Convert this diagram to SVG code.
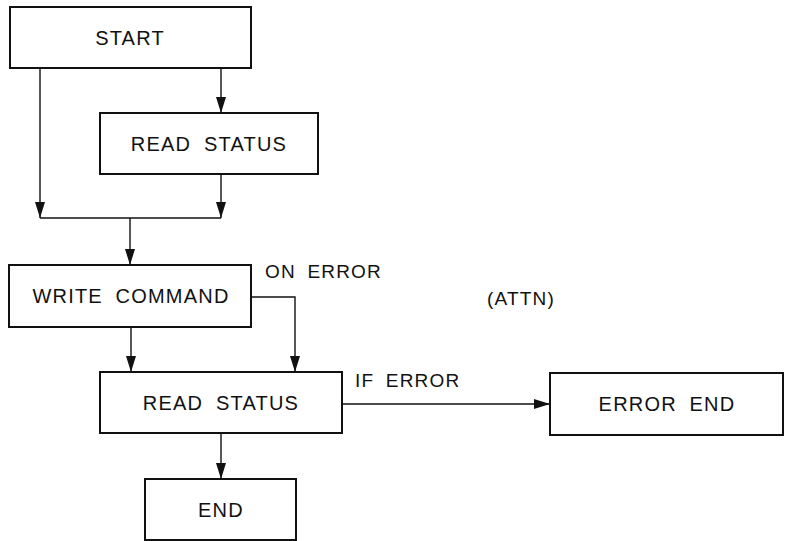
<svg xmlns="http://www.w3.org/2000/svg" width="785" height="541" viewBox="0 0 785 541">
<style>
.box{fill:#fff;stroke:#111;stroke-width:2}
.ln{fill:none;stroke:#111;stroke-width:1.4}
text{font-family:"Liberation Sans",Arial,sans-serif;font-size:19px;fill:#111;letter-spacing:1.2px;word-spacing:5px}
.c{text-anchor:middle;font-size:20px;letter-spacing:1.2px;word-spacing:6px}
</style>
<defs>
<marker id="ah" viewBox="0 0 16 10" refX="16" refY="5" markerWidth="16" markerHeight="10" markerUnits="userSpaceOnUse" orient="auto">
<path d="M0,0 L16,5 L0,10 Z" fill="#111"/>
</marker>
</defs>
<rect width="785" height="541" fill="#fff"/>
<g id="connectors">
<line class="ln" x1="40" y1="68" x2="40" y2="218" marker-end="url(#ah)"/>
<line class="ln" x1="221" y1="68" x2="221" y2="113" marker-end="url(#ah)"/>
<line class="ln" x1="221" y1="174" x2="221" y2="218" marker-end="url(#ah)"/>
<line class="ln" x1="40" y1="218" x2="221" y2="218"/>
<line class="ln" x1="130" y1="218" x2="130" y2="265" marker-end="url(#ah)"/>
<line class="ln" x1="131" y1="327" x2="131" y2="372" marker-end="url(#ah)"/>
<polyline class="ln" points="251,297 295,297 295,372" marker-end="url(#ah)"/>
<line class="ln" x1="221" y1="433" x2="221" y2="479" marker-end="url(#ah)"/>
<line class="ln" x1="342" y1="404" x2="550" y2="404" marker-end="url(#ah)"/>
<text x="265" y="278">ON ERROR</text>
<text x="355" y="387">IF ERROR</text>
<text x="487" y="305">(ATTN)</text>
</g>
<g id="start"><rect class="box" x="10" y="7" width="241" height="61"/><text class="c" x="130" y="45">START</text></g>
<g id="read1"><rect class="box" x="100" y="113" width="218" height="61"/><text class="c" x="209" y="151">READ STATUS</text></g>
<g id="write"><rect class="box" x="9" y="265" width="242" height="62"/><text class="c" x="131" y="303">WRITE COMMAND</text></g>
<g id="read2"><rect class="box" x="100" y="372" width="242" height="61"/><text class="c" x="221" y="410">READ STATUS</text></g>
<g id="end"><rect class="box" x="145" y="479" width="151" height="61"/><text class="c" x="221" y="517">END</text></g>
<g id="errend"><rect class="box" x="550" y="373" width="233" height="62"/><text class="c" x="667" y="411">ERROR END</text></g>
</svg>
